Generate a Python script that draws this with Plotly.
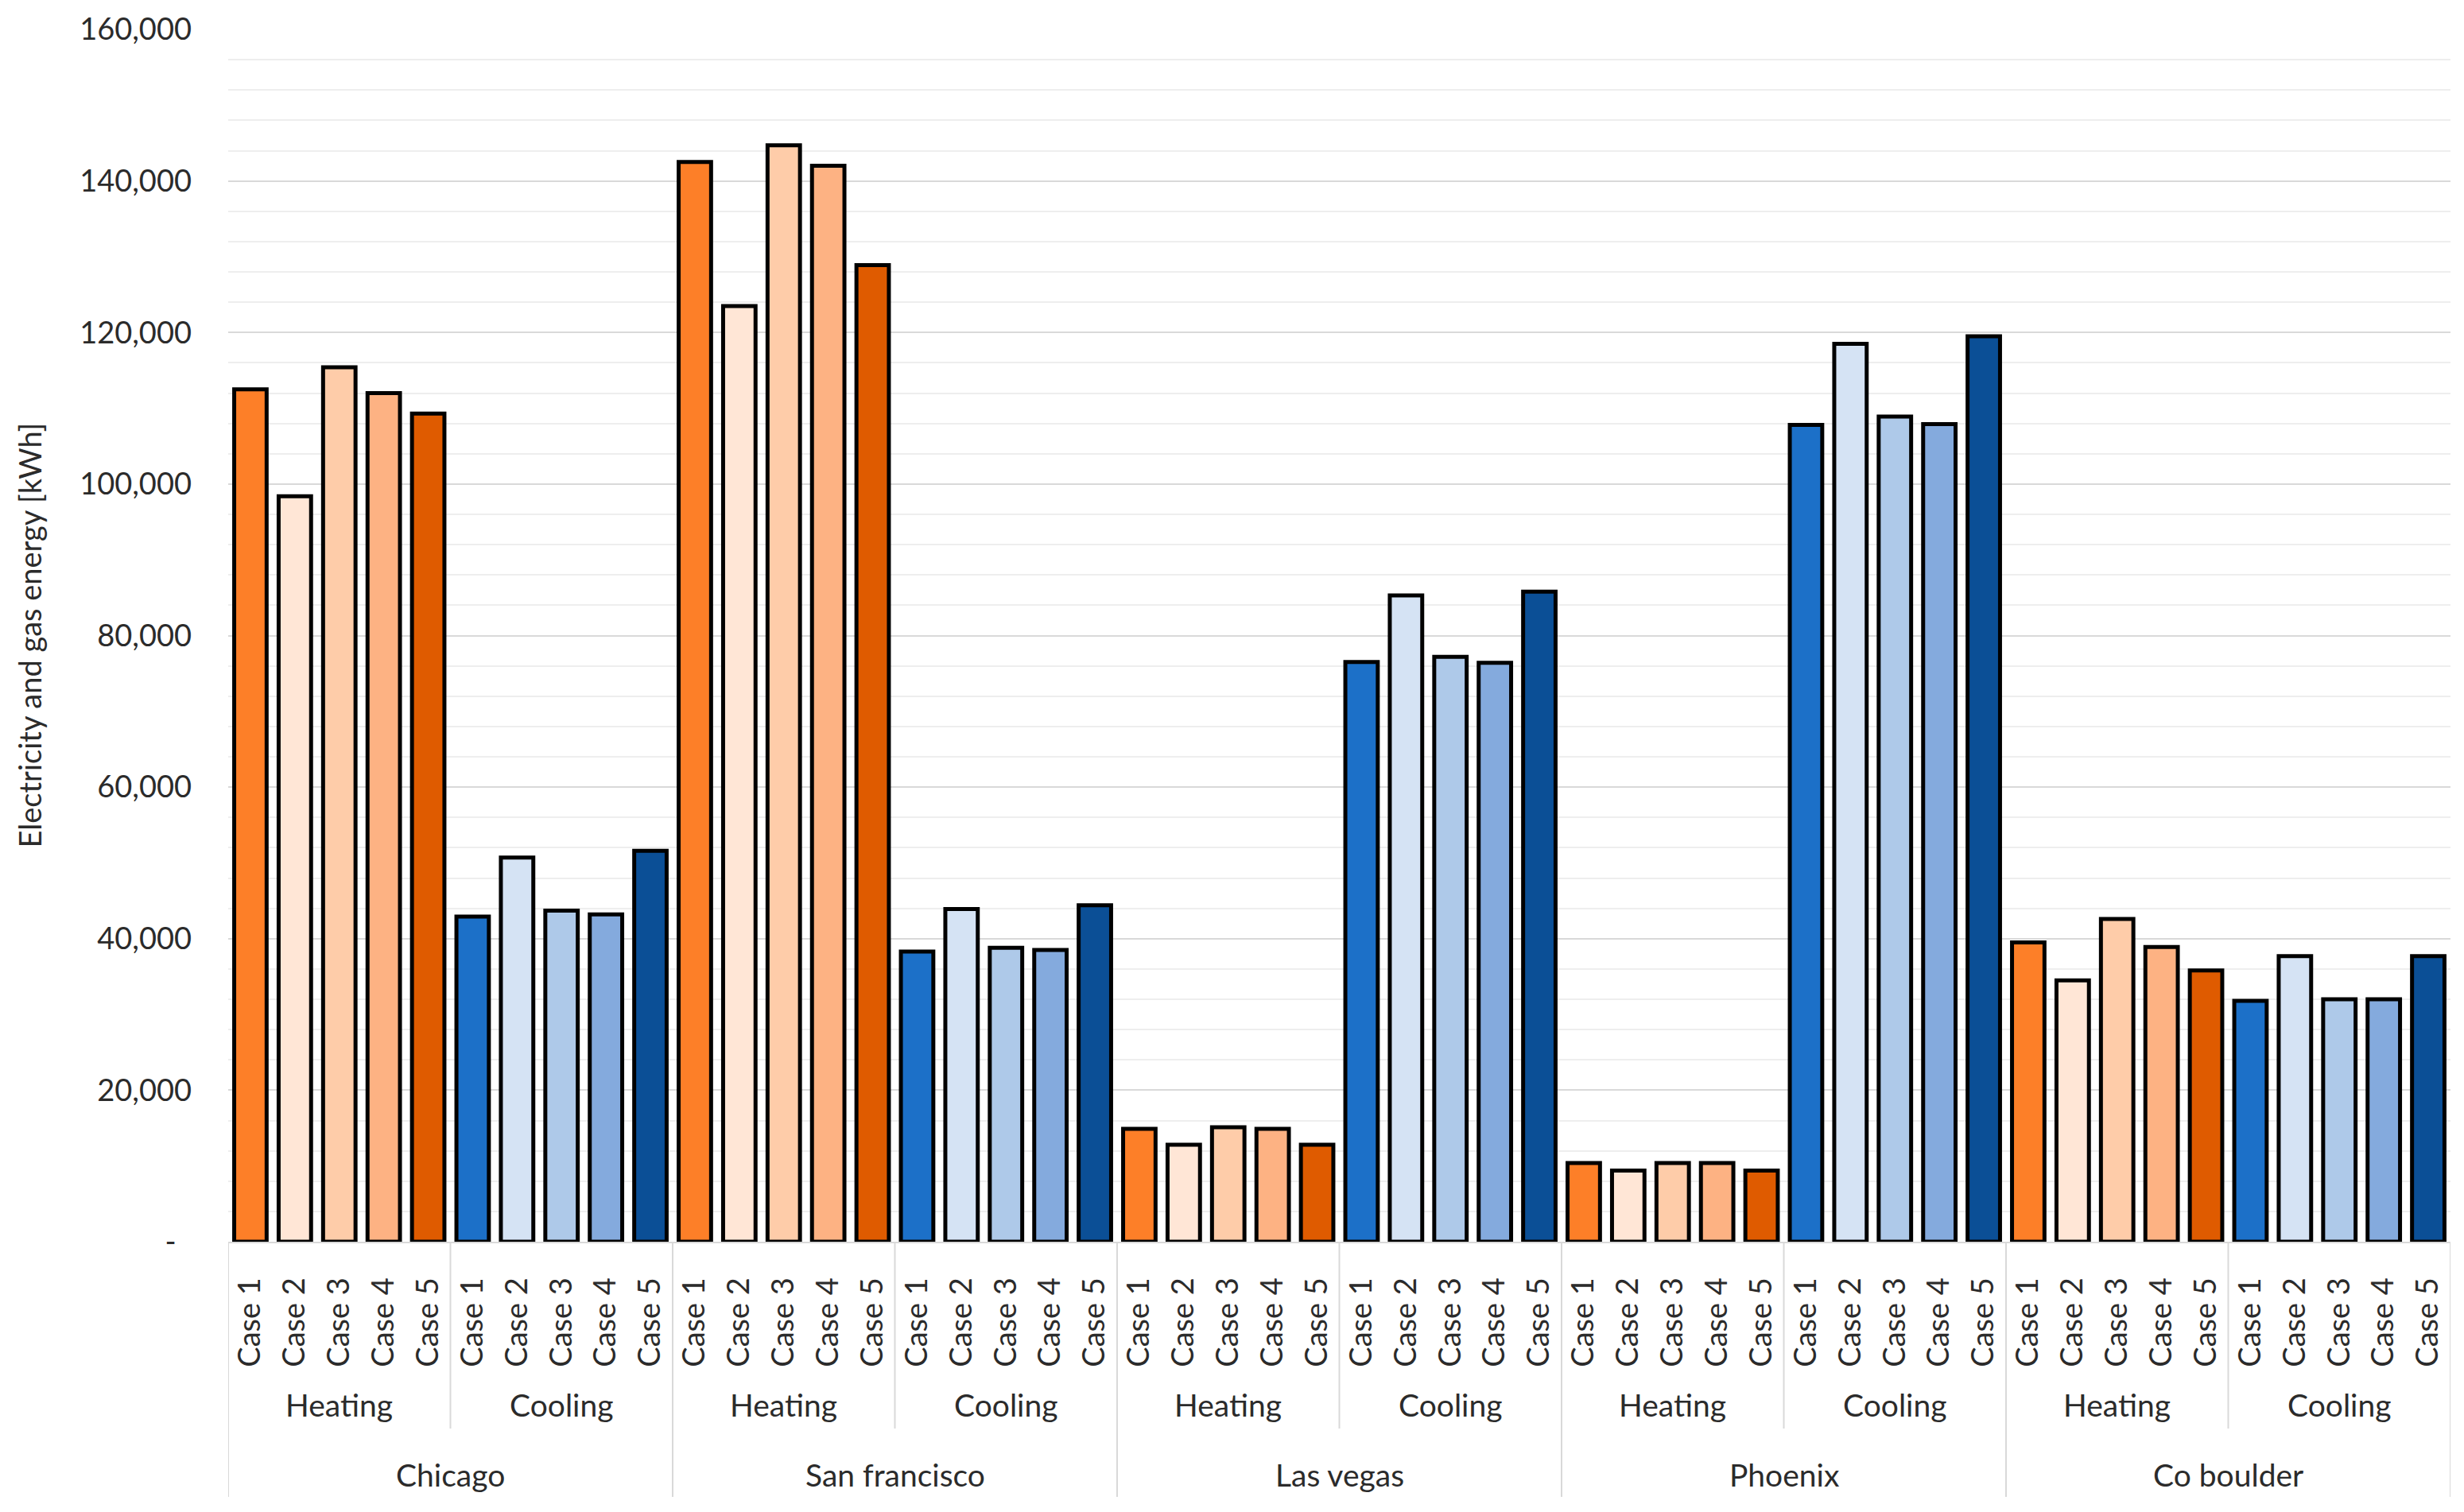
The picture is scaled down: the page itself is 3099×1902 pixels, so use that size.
import plotly.graph_objects as go

# ---------------- data ----------------
cities = ["Chicago", "San francisco", "Las vegas", "Phoenix", "Co boulder"]
loads = ["Heating", "Cooling"]
cases = ["Case 1", "Case 2", "Case 3", "Case 4", "Case 5"]

chicago_heating = [112500, 98400, 115400, 112000, 109300]
chicago_cooling = [42900, 50700, 43700, 43200, 51600]
sanfrancisco_heating = [142500, 123500, 144700, 142000, 128900]
sanfrancisco_cooling = [38300, 43900, 38800, 38500, 44400]
lasvegas_heating = [14900, 12800, 15100, 14900, 12800]
lasvegas_cooling = [76500, 85300, 77200, 76400, 85800]
phoenix_heating = [10400, 9400, 10400, 10400, 9400]
phoenix_cooling = [107800, 118500, 108900, 107900, 119500]
boulder_heating = [39500, 34500, 42600, 38900, 35800]
boulder_cooling = [31800, 37700, 32000, 32000, 37700]

heating_colors = ["#FD7F28", "#FFE6D6", "#FECCA9", "#FDB283", "#DF5B00"]
cooling_colors = ["#1C70C8", "#D5E3F4", "#AEC9E9", "#84AADD", "#0B4F96"]

y_tickvals = [0, 20000, 40000, 60000, 80000, 100000, 120000, 140000, 160000]
y_ticktext = ["-\u00a0\u00a0", "20,000", "40,000", "60,000", "80,000",
              "100,000", "120,000", "140,000", "160,000"]

series = {
    "Chicago": {"Heating": chicago_heating, "Cooling": chicago_cooling},
    "San francisco": {"Heating": sanfrancisco_heating, "Cooling": sanfrancisco_cooling},
    "Las vegas": {"Heating": lasvegas_heating, "Cooling": lasvegas_cooling},
    "Phoenix": {"Heating": phoenix_heating, "Cooling": phoenix_cooling},
    "Co boulder": {"Heating": boulder_heating, "Cooling": boulder_cooling},
}

# ---------------- build ----------------
x_keys, y_vals, bar_colors, tick_text = [], [], [], []
for city in cities:
    for load in loads:
        pal = heating_colors if load == "Heating" else cooling_colors
        for k, case in enumerate(cases):
            x_keys.append(f"{city}|{load}|{case}")
            y_vals.append(series[city][load][k])
            bar_colors.append(pal[k])
            tick_text.append(case)

FONT = "Lato"
TXT = "#2B2B2B"
GRID = "#D9D9D9"

fig = go.Figure()
fig.add_trace(go.Bar(
    x=x_keys, y=y_vals,
    marker=dict(color=bar_colors, line=dict(color="black", width=5)),
    showlegend=False, hoverinfo="x+y",
))

OFF = 8  # page body margin
W, H = 3099, 1902
L, R, T, B = 287 - OFF, 17 + OFF, 37 - OFF, 340 + OFF
ph = H - T - B

def py(pix):
    return (H - B - (pix - OFF)) / ph

annotations = []
shapes = []
for ci, city in enumerate(cities):
    annotations.append(dict(x=ci * 10 + 4.5, y=py(1855), xref="x", yref="paper",
                            text=city, showarrow=False, xanchor="center", yanchor="middle",
                            font=dict(family=FONT, size=39, color=TXT)))
    for li, load in enumerate(loads):
        annotations.append(dict(x=ci * 10 + li * 5 + 2, y=py(1767), xref="x", yref="paper",
                                text=load, showarrow=False, xanchor="center", yanchor="middle",
                                font=dict(family=FONT, size=39, color=TXT)))

for k in range(11):
    ybottom = py(1883) if k % 2 == 0 else py(1797)
    shapes.append(dict(type="line", xref="x", yref="paper", x0=-0.5 + 5 * k, x1=-0.5 + 5 * k,
                       y0=0, y1=ybottom, line=dict(color=GRID, width=2)))

annotations.append(dict(x=(36 - 287) / (W - L - R), y=0.5, xref="paper", yref="paper",
                        text="Electricity and gas energy [kWh]", textangle=-90, showarrow=False,
                        xanchor="center", yanchor="middle",
                        font=dict(family=FONT, size=38, color=TXT)))

fig.update_layout(
    width=W, height=H,
    margin=dict(l=L, r=R, t=T, b=B, autoexpand=False),
    paper_bgcolor="white", plot_bgcolor="white",
    bargap=0.27,
    font=dict(family=FONT, size=38, color=TXT),
    annotations=annotations, shapes=shapes,
    xaxis=dict(
        type="category", tickvals=x_keys, ticktext=tick_text, tickangle=-90,
        range=[-0.5, len(x_keys) - 0.5], showgrid=False,
        showline=True, linecolor=GRID, linewidth=2,
        ticks="", ticklabelstandoff=28,
        tickfont=dict(family=FONT, size=38, color=TXT),
    ),
    yaxis=dict(
        range=[0, 160000], tickvals=y_tickvals, ticktext=y_ticktext,
        showgrid=True, gridcolor=GRID, gridwidth=2, zeroline=False,
        minor=dict(dtick=4000, showgrid=True, gridcolor="#EEEEEE", gridwidth=1.5),
        ticks="", ticklabelstandoff=45,
        tickfont=dict(family=FONT, size=38, color=TXT),
    ),
)

fig.write_html("out.html")
